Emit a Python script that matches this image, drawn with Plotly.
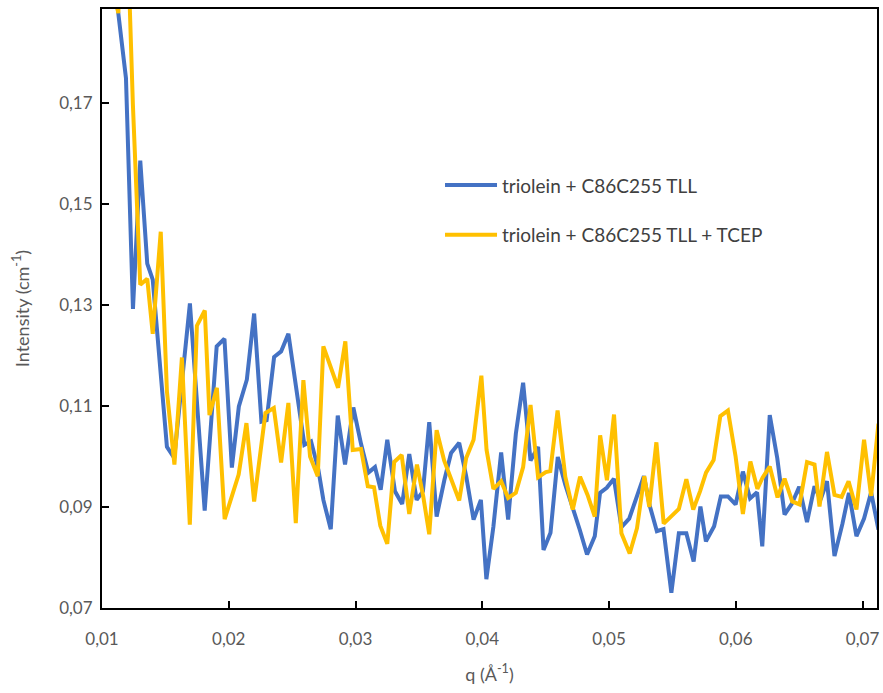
import plotly.graph_objects as go

# ---- data ----
q_blue = [0.010709, 0.011284, 0.011891, 0.012443, 0.013018, 0.013570, 0.014003, 0.015122, 0.015697,
          0.016935, 0.018101, 0.019047, 0.019661, 0.020244, 0.020796, 0.021426, 0.022002, 0.022577,
          0.022987, 0.023578, 0.024129, 0.024704, 0.025311, 0.025966, 0.026493, 0.027069, 0.027463,
          0.028046, 0.028598, 0.029173, 0.029827, 0.030434, 0.031009, 0.031537, 0.031986, 0.032506,
          0.033113, 0.033680, 0.034240, 0.034823, 0.035319, 0.035816, 0.036399, 0.037014, 0.037541,
          0.038180, 0.038731, 0.039314, 0.039890, 0.040323, 0.040875, 0.041489, 0.042041, 0.042648,
          0.043223, 0.043806, 0.044405, 0.044831, 0.045382, 0.045957, 0.046548, 0.047139, 0.047691,
          0.048266, 0.048873, 0.049291, 0.049819, 0.050386, 0.050977, 0.051592, 0.052159, 0.052750,
          0.053207, 0.053775, 0.054295, 0.054917, 0.055508, 0.056099, 0.056675, 0.057210, 0.057644,
          0.058290, 0.058818, 0.059378, 0.059984, 0.060560, 0.061127, 0.061679, 0.062088, 0.062679,
          0.063270, 0.063846, 0.064413, 0.065004, 0.065619, 0.066210, 0.066683, 0.067195, 0.067786,
          0.068416, 0.068928, 0.069519, 0.070118, 0.070678, 0.071253]
i_blue = [0.2000, 0.1875, 0.1749, 0.1292, 0.1586, 0.1382, 0.1350, 0.1019, 0.0997,
          0.1303, 0.0893, 0.1218, 0.1233, 0.0978, 0.1099, 0.1152, 0.1283, 0.1069,
          0.1072, 0.1197, 0.1208, 0.1243, 0.1132, 0.1023, 0.1030, 0.0974, 0.0914,
          0.0856, 0.1081, 0.0984, 0.1097, 0.1025, 0.0968, 0.0979, 0.0934, 0.1033,
          0.0931, 0.0906, 0.1005, 0.0914, 0.0931, 0.1068, 0.0881, 0.0954, 0.1007,
          0.1027, 0.0961, 0.0875, 0.0914, 0.0757, 0.0861, 0.1008, 0.0875, 0.1045,
          0.1146, 0.0992, 0.1019, 0.0815, 0.0849, 0.0999, 0.0944, 0.0899, 0.0855,
          0.0806, 0.0842, 0.0928, 0.0938, 0.0956, 0.0860, 0.0877, 0.0916, 0.0961,
          0.0903, 0.0852, 0.0856, 0.0730, 0.0848, 0.0848, 0.0792, 0.0901, 0.0832,
          0.0862, 0.0921, 0.0921, 0.0905, 0.0970, 0.0917, 0.0929, 0.0822, 0.1082,
          0.0997, 0.0885, 0.0906, 0.0940, 0.0870, 0.0941, 0.0914, 0.0951, 0.0803,
          0.0867, 0.0928, 0.0842, 0.0877, 0.0929, 0.0855]

q_yellow = [0.010709, 0.011284, 0.011860, 0.012435, 0.013018, 0.013570, 0.014003, 0.014634, 0.015122,
            0.015713, 0.016304, 0.016927, 0.017486, 0.018109, 0.018479, 0.019062, 0.019677, 0.020229,
            0.020780, 0.021395, 0.022002, 0.022892, 0.023554, 0.024129, 0.024704, 0.025288, 0.025887,
            0.026414, 0.027021, 0.027463, 0.028046, 0.028621, 0.029196, 0.029779, 0.030434, 0.030969,
            0.031458, 0.031955, 0.032506, 0.033050, 0.033641, 0.034240, 0.034847, 0.035343, 0.035816,
            0.036399, 0.036990, 0.037581, 0.038180, 0.038731, 0.039314, 0.039929, 0.040339, 0.040875,
            0.041489, 0.042041, 0.042648, 0.043223, 0.043806, 0.044405, 0.045012, 0.045366, 0.045942,
            0.046548, 0.047139, 0.047715, 0.048306, 0.048873, 0.049299, 0.049835, 0.050394, 0.050977,
            0.051631, 0.052206, 0.052782, 0.053176, 0.053735, 0.054311, 0.054917, 0.055508, 0.056099,
            0.056643, 0.057179, 0.057652, 0.058251, 0.058779, 0.059378, 0.059984, 0.060560, 0.061150,
            0.061702, 0.062112, 0.062679, 0.063294, 0.063846, 0.064452, 0.065028, 0.065619, 0.066210,
            0.066604, 0.067195, 0.067786, 0.068353, 0.068897, 0.069519, 0.070118, 0.070678, 0.071253]
i_yellow = [0.1950, 0.1878, 0.2150, 0.1698, 0.1340, 0.1352, 0.1243, 0.1445, 0.1129,
            0.0984, 0.1196, 0.0865, 0.1259, 0.1289, 0.1082, 0.1136, 0.0876, 0.0920,
            0.0964, 0.1066, 0.0911, 0.1086, 0.1096, 0.0988, 0.1106, 0.0868, 0.1151,
            0.1000, 0.0961, 0.1218, 0.1175, 0.1136, 0.1228, 0.1013, 0.1015, 0.0941,
            0.0939, 0.0863, 0.0827, 0.0989, 0.1003, 0.0886, 0.0984, 0.0921, 0.0846,
            0.1052, 0.0992, 0.0952, 0.0913, 0.0997, 0.1033, 0.1160, 0.1013, 0.0936,
            0.0951, 0.0918, 0.0928, 0.0979, 0.1102, 0.0959, 0.0969, 0.0971, 0.1091,
            0.0960, 0.0895, 0.0960, 0.0924, 0.0881, 0.1042, 0.0953, 0.1083, 0.0848,
            0.0808, 0.0858, 0.0961, 0.0900, 0.1028, 0.0867, 0.0882, 0.0896, 0.0955,
            0.0895, 0.0931, 0.0968, 0.0993, 0.1080, 0.1091, 0.1000, 0.0886, 0.0990,
            0.0936, 0.0958, 0.0980, 0.0919, 0.0956, 0.0911, 0.0905, 0.0989, 0.0984,
            0.0901, 0.1009, 0.0924, 0.0920, 0.0951, 0.0895, 0.1033, 0.0922, 0.1065]

series_names = ["triolein + C86C255 TLL", "triolein + C86C255 TLL + TCEP"]
series_colors = ["#4472C4", "#FFC000"]
x_ticks = [0.01, 0.02, 0.03, 0.04, 0.05, 0.06, 0.07]
y_ticks = [0.07, 0.09, 0.11, 0.13, 0.15, 0.17]

FONT = "Lato, 'Open Sans', sans-serif"
GREY = "#595959"

fig = go.Figure()
for qs, vals, name, col in [(q_blue, i_blue, series_names[0], series_colors[0]),
                            (q_yellow, i_yellow, series_names[1], series_colors[1])]:
    fig.add_trace(go.Scatter(x=qs, y=vals, mode="lines", name=name,
                             line=dict(color=col, width=4), showlegend=False))

# manual legend (line sample + text) placed as in the reference
leg_y = [0.706, 0.623]
for k in range(2):
    fig.add_shape(type="line", xref="paper", yref="paper",
                  x0=0.4426, x1=0.5097, y0=leg_y[k], y1=leg_y[k],
                  line=dict(color=series_colors[k], width=4))
    fig.add_annotation(xref="paper", yref="paper", x=0.513, y=leg_y[k],
                       text=series_names[k], showarrow=False, xanchor="left", yanchor="middle",
                       font=dict(family=FONT, size=19, color="#404040"))

axis_common = dict(showline=True, linecolor="black", linewidth=2, mirror=True,
                   ticks="inside", ticklen=7, tickwidth=2, tickcolor="black",
                   showgrid=False, zeroline=False, tickformat=".2f", automargin=False,
                   tickfont=dict(family=FONT, size=17, color=GREY))

fig.update_xaxes(range=[0.01, 0.07114], tickvals=x_ticks, ticklabelstandoff=15,
                 title=dict(text="q (Å<sup>-1</sup>)", font=dict(family=FONT, size=18, color=GREY),
                            standoff=20),
                 **axis_common)
fig.update_yaxes(range=[0.07, 0.1886], tickvals=y_ticks, ticklabelstandoff=4,
                 title=dict(text="Intensity (cm<sup>-1</sup>)", font=dict(family=FONT, size=18, color=GREY),
                            standoff=25),
                 **axis_common)

fig.update_layout(width=883, height=693, separators=", ",
                  margin=dict(l=102, r=6, t=9, b=85),
                  plot_bgcolor="white", paper_bgcolor="white",
                  font=dict(family=FONT, color=GREY))

# remove the default 8 px page margin so the figure fills the 883x693 window exactly
fig.write_html("out.html", config={"displayModeBar": False},
               post_script="document.body.style.margin='0px';")
